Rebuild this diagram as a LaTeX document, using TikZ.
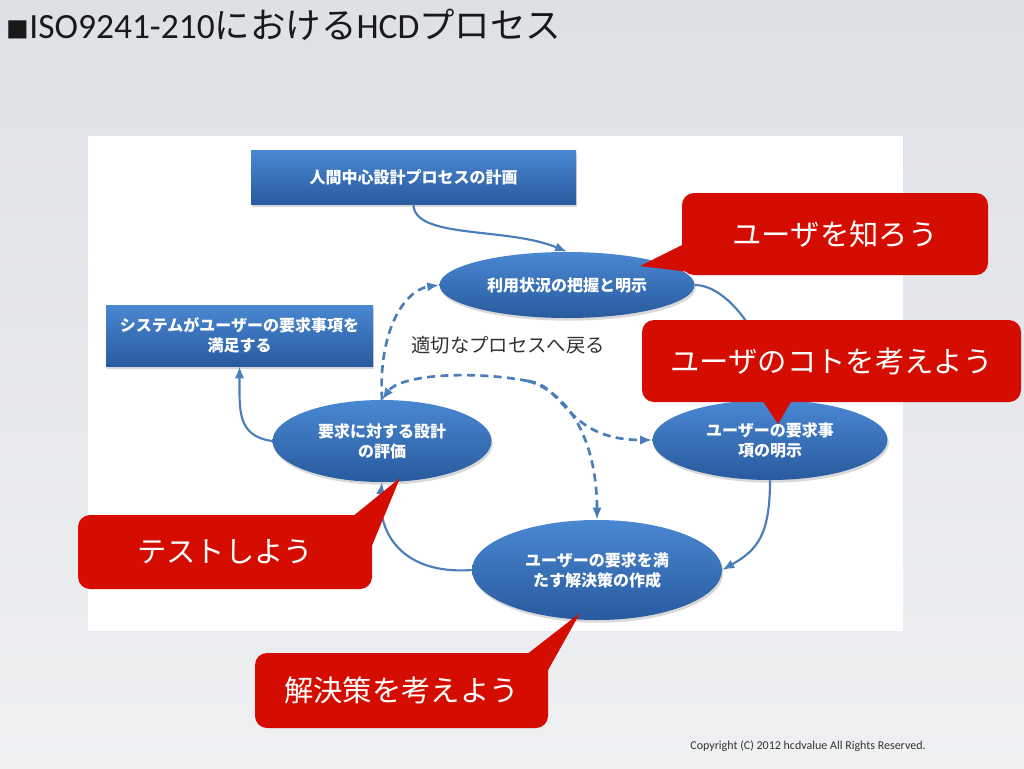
\documentclass[tikz,border=0pt]{standalone}
\usepackage{fontspec}
\setmainfont{Carlito}
\newfontfamily\cjk{Noto Sans CJK JP}
\usetikzlibrary{shapes.geometric,arrows.meta,shadows}
\definecolor{slidetop}{RGB}{221,224,229}
\definecolor{slidebot}{RGB}{238,240,242}
\definecolor{btop}{RGB}{74,136,210}
\definecolor{bbot}{RGB}{40,90,158}
\definecolor{conn}{RGB}{74,126,187}
\definecolor{callred}{RGB}{213,12,0}
\definecolor{labelgray}{RGB}{51,51,51}
\def\px{0.75pt}
\begin{document}
\begin{tikzpicture}[x=0.75pt,y=-0.75pt,
  procbox/.style={rectangle, top color=btop, bottom color=bbot, draw=none, text=white,
    font=\cjk\bfseries\fontsize{12}{15}\selectfont, align=center, inner sep=0pt,
    drop shadow={opacity=0.3,shadow xshift=1pt,shadow yshift=-2pt}},
  procell/.style={procbox, ellipse},
  callout/.style={fill=callred, rounded corners=9pt, text=white,
    font=\cjk\fontsize{22}{26}\selectfont, inner sep=0pt},
  flow/.style={draw=conn, line width=1.6pt, -{Latex[length=9pt,width=7pt]}},
  back/.style={flow, dash pattern=on 6pt off 4pt, line width=2pt}]
\useasboundingbox (0,0) rectangle (1024,768);
\shade[top color=slidetop, bottom color=slidebot] (0,0) rectangle (1024,768);
\fill[white] (88,136) rectangle (903,631);

\node[anchor=base west, font=\fontsize{26.6}{30}\selectfont, text=black!90] (title) at (2,38)
  {{\cjk\fontsize{17}{20}\selectfont ■}ISO9241-210{\cjk における}HCD{\cjk プロセス}};

\node[procbox, minimum width={325*\px}, minimum height={54*\px}] (plan) at (413.5,177) {人間中心設計プロセスの計画};
\node[procbox, minimum width={267*\px}, minimum height={61*\px}] (sat) at (239.5,335.5) {システムがユーザーの要求事項を\\満足する};
\node[procell, minimum width={255*\px}, minimum height={66*\px}] (e1) at (567,285) {利用状況の把握と明示};
\node[procell, minimum width={219*\px}, minimum height={82*\px}] (e2) at (382,441) {要求に対する設計\\の評価};
\node[procell, minimum width={235*\px}, minimum height={80*\px}] (e3) at (770,440) {ユーザーの要求事\\項の明示};
\node[procell, minimum width={250*\px}, minimum height={100*\px}] (e4) at (597,570) {ユーザーの要求を満\\たす解決策の作成};

\draw[flow] (plan.south) .. controls +(0,35) and +(-60,-25) .. (e1.north);
\draw[flow] (e1.east) .. controls +(35,0) and +(0,-55) .. (e3.north);
\draw[flow] (e3.south) .. controls +(0,55) and +(35,-20) .. (e4.east);
\draw[flow] (e4.west) .. controls +(-70,5) and +(-5,50) .. (e2.south);
\draw[flow] (e2.west) .. controls +(-35,-5) and +(0,45) .. (sat.south);

\coordinate (hub) at (528,381);
\draw[back] (hub) .. controls (470,370) and (400,375) .. (e2.north);
\draw[back] (e2.north) .. controls (378,330) and (405,290) .. (e1.west);
\draw[back] (hub) .. controls (565,385) and (565,440) .. (e3.west);
\draw[back] (hub) .. controls (575,395) and (597,450) .. (e4.north);

\node[font=\cjk\fontsize{14.5}{16}\selectfont, text=labelgray] (lbl) at (508,345) {適切なプロセスへ戻る};

% callouts
\node[callout, minimum width={306*\px}, minimum height={82*\px}] (c1) at (835,234) {ユーザを知ろう};
\coordinate (t1) at (640,266);
\fill[callred] (684,244) -- (t1) -- (706,274) -- cycle;

\node[callout, minimum width={379*\px}, minimum height={82*\px}] (c2) at (831.5,361) {ユーザのコトを考えよう};
\coordinate (t2) at (778,424);
\fill[callred] (762,400) -- (t2) -- (792,400) -- cycle;

\node[callout, minimum width={294*\px}, minimum height={74*\px}] (c3) at (225,552) {テストしよう};
\coordinate (t3) at (400,478);
\fill[callred] (352,517) -- (t3) -- (371,548) -- cycle;

\node[callout, minimum width={293*\px}, minimum height={75*\px}] (c4) at (401.5,690.5) {解決策を考えよう};
\coordinate (t4) at (580,613);
\fill[callred] (526,655) -- (t4) -- (547,672) -- cycle;

\node[font=\fontsize{9}{11}\selectfont, text=labelgray] (copy) at (808,746) {Copyright (C) 2012 hcdvalue All Rights Reserved.};
\end{tikzpicture}
\end{document}
